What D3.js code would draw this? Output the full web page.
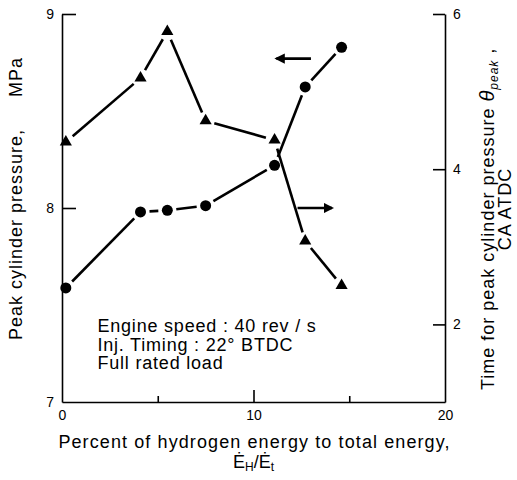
<!DOCTYPE html>
<html>
<head>
<meta charset="utf-8">
<script src="https://cdn.jsdelivr.net/npm/d3@7"></script>
<style>
  body { margin: 0; background: #fff; }
  svg text { font-family: "Liberation Sans", Arial, sans-serif; fill: #000; }
  .axis path, .axis line { stroke: #000; stroke-width: 1.6; }
  .axis text { font-size: 14px; }
</style>
</head>
<body>
<div id="chart"></div>
<script>
// Dados
var hydrogenPct   = [0.2, 4.1, 5.5, 7.5, 11.1, 12.7, 14.6];
var peakPressure  = [8.34, 8.67, 8.91, 8.45, 8.35, 7.83, 7.60];   // MPa (eixo esquerdo, triângulos)
var peakTime      = [2.47, 3.45, 3.47, 3.53, 4.05, 5.06, 5.57];   // graus CA ATDC (eixo direito, círculos)
var leftTicks     = [7, 8, 9];
var rightTicks    = [2, 4, 6];
var xMajorTicks   = [0, 10, 20];
var xMinorTicks   = [5, 15];
var noteLines     = ["Engine speed : 40 rev / s", "Inj. Timing : 22° BTDC", "Full rated load"];

// Configura margens do svg
var margin = { top: 14, left: 62, right: 72, bottom: 78 },
    width = 517 - margin.left - margin.right,
    height = 480 - margin.top - margin.bottom;

var svg = d3.select("#chart")
  .append("svg")
  .attr("width", 517)
  .attr("height", 480)
  .append("g")
  .attr("transform", "translate(" + margin.left + "," + margin.top + ")");

// Escalas
var xScale = d3.scaleLinear().domain([0, 20]).range([0, width]);
var yLeft  = d3.scaleLinear().domain([7, 9]).range([height, 0]);
var yRight = d3.scaleLinear().domain([1, 6]).range([height, 0]);

// Eixos
var xAxis = d3.axisBottom(xScale).tickValues(xMajorTicks).tickSizeInner(-12).tickSizeOuter(0).tickPadding(8)
  .tickFormat(d3.format("d"));
svg.append("g").attr("class", "axis x-axis")
  .attr("transform", "translate(0," + height + ")")
  .call(xAxis);
svg.selectAll(".x-axis .tick line").filter(function(d) { return d !== 10; }).remove();

svg.append("g").attr("class", "axis x-minor")
  .attr("transform", "translate(0," + height + ")")
  .call(d3.axisBottom(xScale).tickValues(xMinorTicks).tickSizeInner(-6).tickSizeOuter(0).tickFormat(""))
  .select(".domain").remove();

var yAxisL = d3.axisLeft(yLeft).tickValues(leftTicks).tickSizeInner(-14).tickSizeOuter(0).tickPadding(8)
  .tickFormat(d3.format("d"));
svg.append("g").attr("class", "axis y-left").call(yAxisL);
svg.selectAll(".y-left .tick line").filter(function(d) { return d === 7; }).remove();

var yAxisR = d3.axisRight(yRight).tickValues(rightTicks).tickSizeInner(-12).tickSizeOuter(0).tickPadding(8)
  .tickFormat(d3.format("d"));
svg.append("g").attr("class", "axis y-right")
  .attr("transform", "translate(" + width + ",0)")
  .call(yAxisR);

// Segmentos com folga ao redor dos marcadores
function gappedSegments(yScale, values, gap) {
  var pts = hydrogenPct.map(function(x, i) { return [xScale(x), yScale(values[i])]; });
  var segs = [];
  for (var i = 0; i < pts.length - 1; i++) {
    var a = pts[i], b = pts[i + 1];
    var dx = b[0] - a[0], dy = b[1] - a[1], len = Math.sqrt(dx * dx + dy * dy);
    var ux = dx / len, uy = dy / len;
    segs.push([a[0] + ux * gap, a[1] + uy * gap, b[0] - ux * gap, b[1] - uy * gap]);
  }
  return segs;
}

function drawSegments(segs) {
  svg.selectAll(null).data(segs).enter().append("line")
    .attr("x1", function(d) { return d[0]; })
    .attr("y1", function(d) { return d[1]; })
    .attr("x2", function(d) { return d[2]; })
    .attr("y2", function(d) { return d[3]; })
    .attr("stroke", "#000")
    .attr("stroke-width", 2.6);
}

drawSegments(gappedSegments(yLeft, peakPressure, 9));
drawSegments(gappedSegments(yRight, peakTime, 9));

// Triângulos (pressão)
svg.selectAll(".tri").data(hydrogenPct).enter().append("path")
  .attr("class", "tri")
  .attr("d", d3.symbol().type(d3.symbolTriangle).size(64))
  .attr("transform", function(d, i) { return "translate(" + xScale(d) + "," + yLeft(peakPressure[i]) + ")"; })
  .attr("fill", "#000");

// Círculos (tempo do pico)
svg.selectAll(".dot").data(hydrogenPct).enter().append("circle")
  .attr("class", "dot")
  .attr("cx", function(d) { return xScale(d); })
  .attr("cy", function(d, i) { return yRight(peakTime[i]); })
  .attr("r", 5.5)
  .attr("fill", "#000");

// Setas indicando o eixo de cada série
svg.append("defs").append("marker")
  .attr("id", "head")
  .attr("viewBox", "0 0 10 10")
  .attr("refX", 8).attr("refY", 5)
  .attr("markerWidth", 4).attr("markerHeight", 4)
  .attr("orient", "auto")
  .append("path").attr("d", "M0,0 L10,5 L0,10 Z").attr("fill", "#000");

svg.append("line")
  .attr("x1", xScale(13.0)).attr("x2", xScale(11.2))
  .attr("y1", yLeft(8.77)).attr("y2", yLeft(8.77))
  .attr("stroke", "#000").attr("stroke-width", 2.6)
  .attr("marker-end", "url(#head)");

svg.append("line")
  .attr("x1", xScale(12.3)).attr("x2", xScale(14.1))
  .attr("y1", yLeft(8.0)).attr("y2", yLeft(8.0))
  .attr("stroke", "#000").attr("stroke-width", 2.6)
  .attr("marker-end", "url(#head)");

// Notas das condições de ensaio
svg.append("g").selectAll("text").data(noteLines).enter().append("text")
  .attr("x", xScale(1.85))
  .attr("y", function(d, i) { return yLeft(7.36) + i * 18.5; })
  .attr("font-size", "18px")
  .attr("letter-spacing", "0.8px")
  .text(function(d) { return d; });

// Títulos dos eixos
svg.append("text")
  .attr("transform", "translate(" + (-40) + "," + 326 + ") rotate(-90)")
  .attr("text-anchor", "start")
  .attr("font-size", "18px")
  .attr("letter-spacing", "1px")
  .text("Peak cylinder pressure,");

svg.append("text")
  .attr("transform", "translate(" + (-40) + "," + 43 + ") rotate(-90)")
  .attr("text-anchor", "end")
  .attr("font-size", "18px")
  .attr("letter-spacing", "1px")
  .text("MPa");

var rTitle = svg.append("text")
  .attr("transform", "translate(" + (width + 49) + "," + (height - 12) + ") rotate(-90)")
  .attr("text-anchor", "start")
  .attr("font-size", "18px")
  .attr("letter-spacing", "1px");
rTitle.append("tspan").text("Time for peak cylinder pressure  ");
rTitle.append("tspan").attr("font-style", "italic").attr("font-size", "20px").text("θ");
rTitle.append("tspan").attr("font-style", "italic").attr("font-size", "12px").attr("dy", 4).text("peak");
rTitle.append("tspan").attr("dy", -4).text(" ,");

svg.append("text")
  .attr("transform", "translate(" + (width + 66) + "," + (height / 2 + 1) + ") rotate(-90)")
  .attr("text-anchor", "middle")
  .attr("font-size", "18px")
  .attr("letter-spacing", "1px")
  .text("CA ATDC");

svg.append("text")
  .attr("x", width / 2 + 1)
  .attr("y", height + 46)
  .attr("text-anchor", "middle")
  .attr("font-size", "18px")
  .attr("letter-spacing", "1.1px")
  .text("Percent of hydrogen energy to total energy,");

var frac = svg.append("text")
  .attr("x", width / 2)
  .attr("y", height + 66)
  .attr("text-anchor", "middle")
  .attr("font-size", "18px");
frac.append("tspan").text("Ė");
frac.append("tspan").attr("font-size", "12px").attr("dy", 3).text("H");
frac.append("tspan").attr("dy", -3).text("/Ė");
frac.append("tspan").attr("font-size", "12px").attr("dy", 3).text("t");
</script>
</body>
</html>
